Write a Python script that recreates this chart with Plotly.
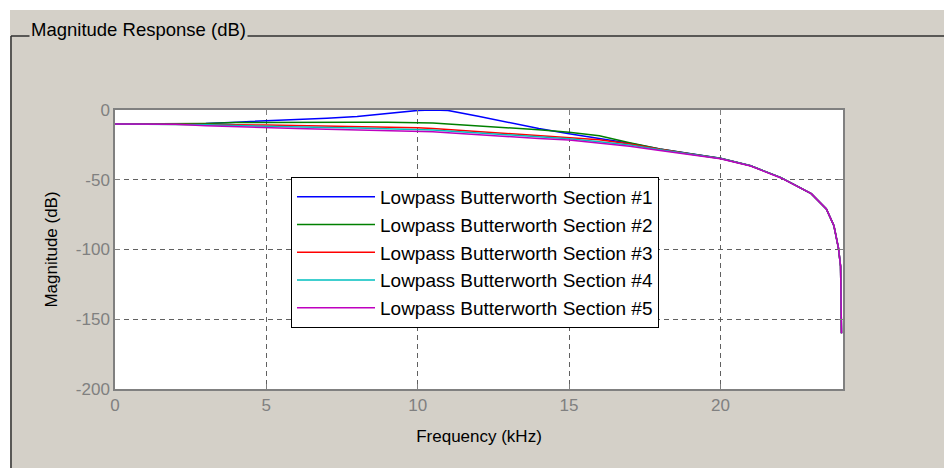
import plotly.graph_objects as go

# frequency grid (kHz) and magnitude (dB)
freq_khz = [0, 1, 2, 3, 4, 5, 6, 7, 8, 9, 10, 10.5, 11, 12, 13, 14, 15, 16, 17, 18,
            19, 20, 21, 22, 23, 23.5, 23.75, 23.9, 23.97, 24]

section1 = [-10, -10, -10, -9.6, -8.7, -7.9, -7.0, -5.9, -4.6, -2.3, -0.3, 0, -0.3, -4.5, -9.0,
            -13.2, -17.0, -20.6, -23.8, -28.0, -31.3, -34.6, -40, -48.5, -60, -71, -83, -99, -112, -160]
section2 = [-10, -10, -10, -9.6, -9.0, -8.8, -8.7, -8.7, -8.7, -8.8, -8.9, -9.3, -10.0, -11.3, -12.6,
            -14.2, -16.0, -18.5, -23.5, -28.0, -31.3, -34.6, -40, -48.5, -60, -71, -83, -99, -112, -160]
section3 = [-10, -10, -10, -10.3, -10.5, -10.8, -11.2, -11.6, -11.8, -12.1, -12.8, -13.3, -14.0, -15.3, -16.7,
            -18.0, -19.5, -21.3, -24.3, -28.2, -31.5, -34.7, -40, -48.5, -60, -71, -83, -99, -112, -160]
section4 = [-10, -10, -10, -10.5, -11.2, -11.8, -12.3, -12.6, -12.9, -13.3, -13.8, -14.3, -15.0, -16.3, -17.8,
            -19.3, -20.6, -22.7, -25.0, -28.5, -31.7, -34.8, -40, -48.5, -60, -71, -83, -99, -112, -160]
section5 = [-10, -10, -10.3, -11.3, -12.1, -12.8, -13.3, -13.8, -14.2, -14.5, -15.0, -15.6, -16.3, -17.8, -19.3,
            -20.5, -21.5, -23.5, -26.0, -29.0, -32.0, -35.0, -40.2, -48.7, -60, -71, -83, -99, -112, -160]

names = ["Lowpass Butterworth Section #%d" % i for i in range(1, 6)]
colors = ["#0000ff", "#008000", "#ff0000", "#00bfbf", "#bf00bf"]

x_ticks = [0, 5, 10, 15, 20]
y_ticks = [0, -50, -100, -150, -200]

# the page body adds an 8px white margin, so the figure is 8px smaller
OFF = 8
W, H = 952 - OFF, 468 - OFF
# plot box in page pixels
L, R, T, B = 115, 843, 110, 389
PANEL = "#d4d0c8"
FONT = "Liberation Sans, Arial, sans-serif"


def px(x):
    return (x - L) / (R - L)


def py(y):
    return (B - y) / (B - T)


fig = go.Figure()
for name, vals, col in zip(names, [section1, section2, section3, section4, section5], colors):
    fig.add_trace(go.Scatter(x=freq_khz, y=vals, mode="lines", name=name,
                             line=dict(color=col, width=1.5)))

axis_style = dict(showline=True, linecolor="#808080", linewidth=1.5, mirror="ticks",
                  ticks="inside", ticklen=5, tickcolor="#808080",
                  showgrid=True, gridcolor="#606060", gridwidth=1, griddash="5px,4px",
                  zeroline=False, tickfont=dict(size=17, color="#808080"))

fig.update_xaxes(range=[0, 24.05], tickvals=x_ticks, ticktext=[str(v) for v in x_ticks], **axis_style,
                 title=dict(text="Frequency (kHz)", font=dict(size=17, color="black"), standoff=16))
fig.update_yaxes(range=[-200, 0], tickvals=y_ticks, ticktext=[str(v) for v in y_ticks], **axis_style,
                 title=dict(text="Magnitude (dB)", font=dict(size=17, color="black"), standoff=14))

fig.update_layout(
    width=W, height=H,
    margin=dict(l=L - OFF, r=W + OFF - R, t=T - OFF, b=H + OFF - B),
    paper_bgcolor=PANEL, plot_bgcolor="white",
    font=dict(family=FONT, size=17, color="black"),
    legend=dict(x=px(291), y=py(177), xanchor="left", yanchor="top",
                bgcolor="white", bordercolor="black", borderwidth=1,
                font=dict(size=19), itemwidth=78, entrywidth=385, tracegroupgap=0),
    shapes=[
        dict(type="rect", xref="paper", yref="paper", x0=px(OFF), x1=px(952), y0=py(OFF), y1=py(10),
             fillcolor="white", line=dict(width=0), layer="below"),
        dict(type="rect", xref="paper", yref="paper", x0=px(OFF), x1=px(10), y0=py(OFF), y1=py(468),
             fillcolor="white", line=dict(width=0), layer="below"),
        dict(type="line", xref="paper", yref="paper", x0=px(11), x1=px(952), y0=py(36), y1=py(36),
             line=dict(color="#303030", width=1.5)),
        dict(type="line", xref="paper", yref="paper", x0=px(11), x1=px(11), y0=py(36), y1=py(468),
             line=dict(color="#303030", width=1.5)),
    ],
    annotations=[
        dict(text="Magnitude Response (dB)", xref="paper", yref="paper", x=px(29), y=py(30),
             xanchor="left", yanchor="middle", showarrow=False, bgcolor=PANEL,
             font=dict(size=18.5, color="black")),
    ],
)

fig.write_html("out.html")
